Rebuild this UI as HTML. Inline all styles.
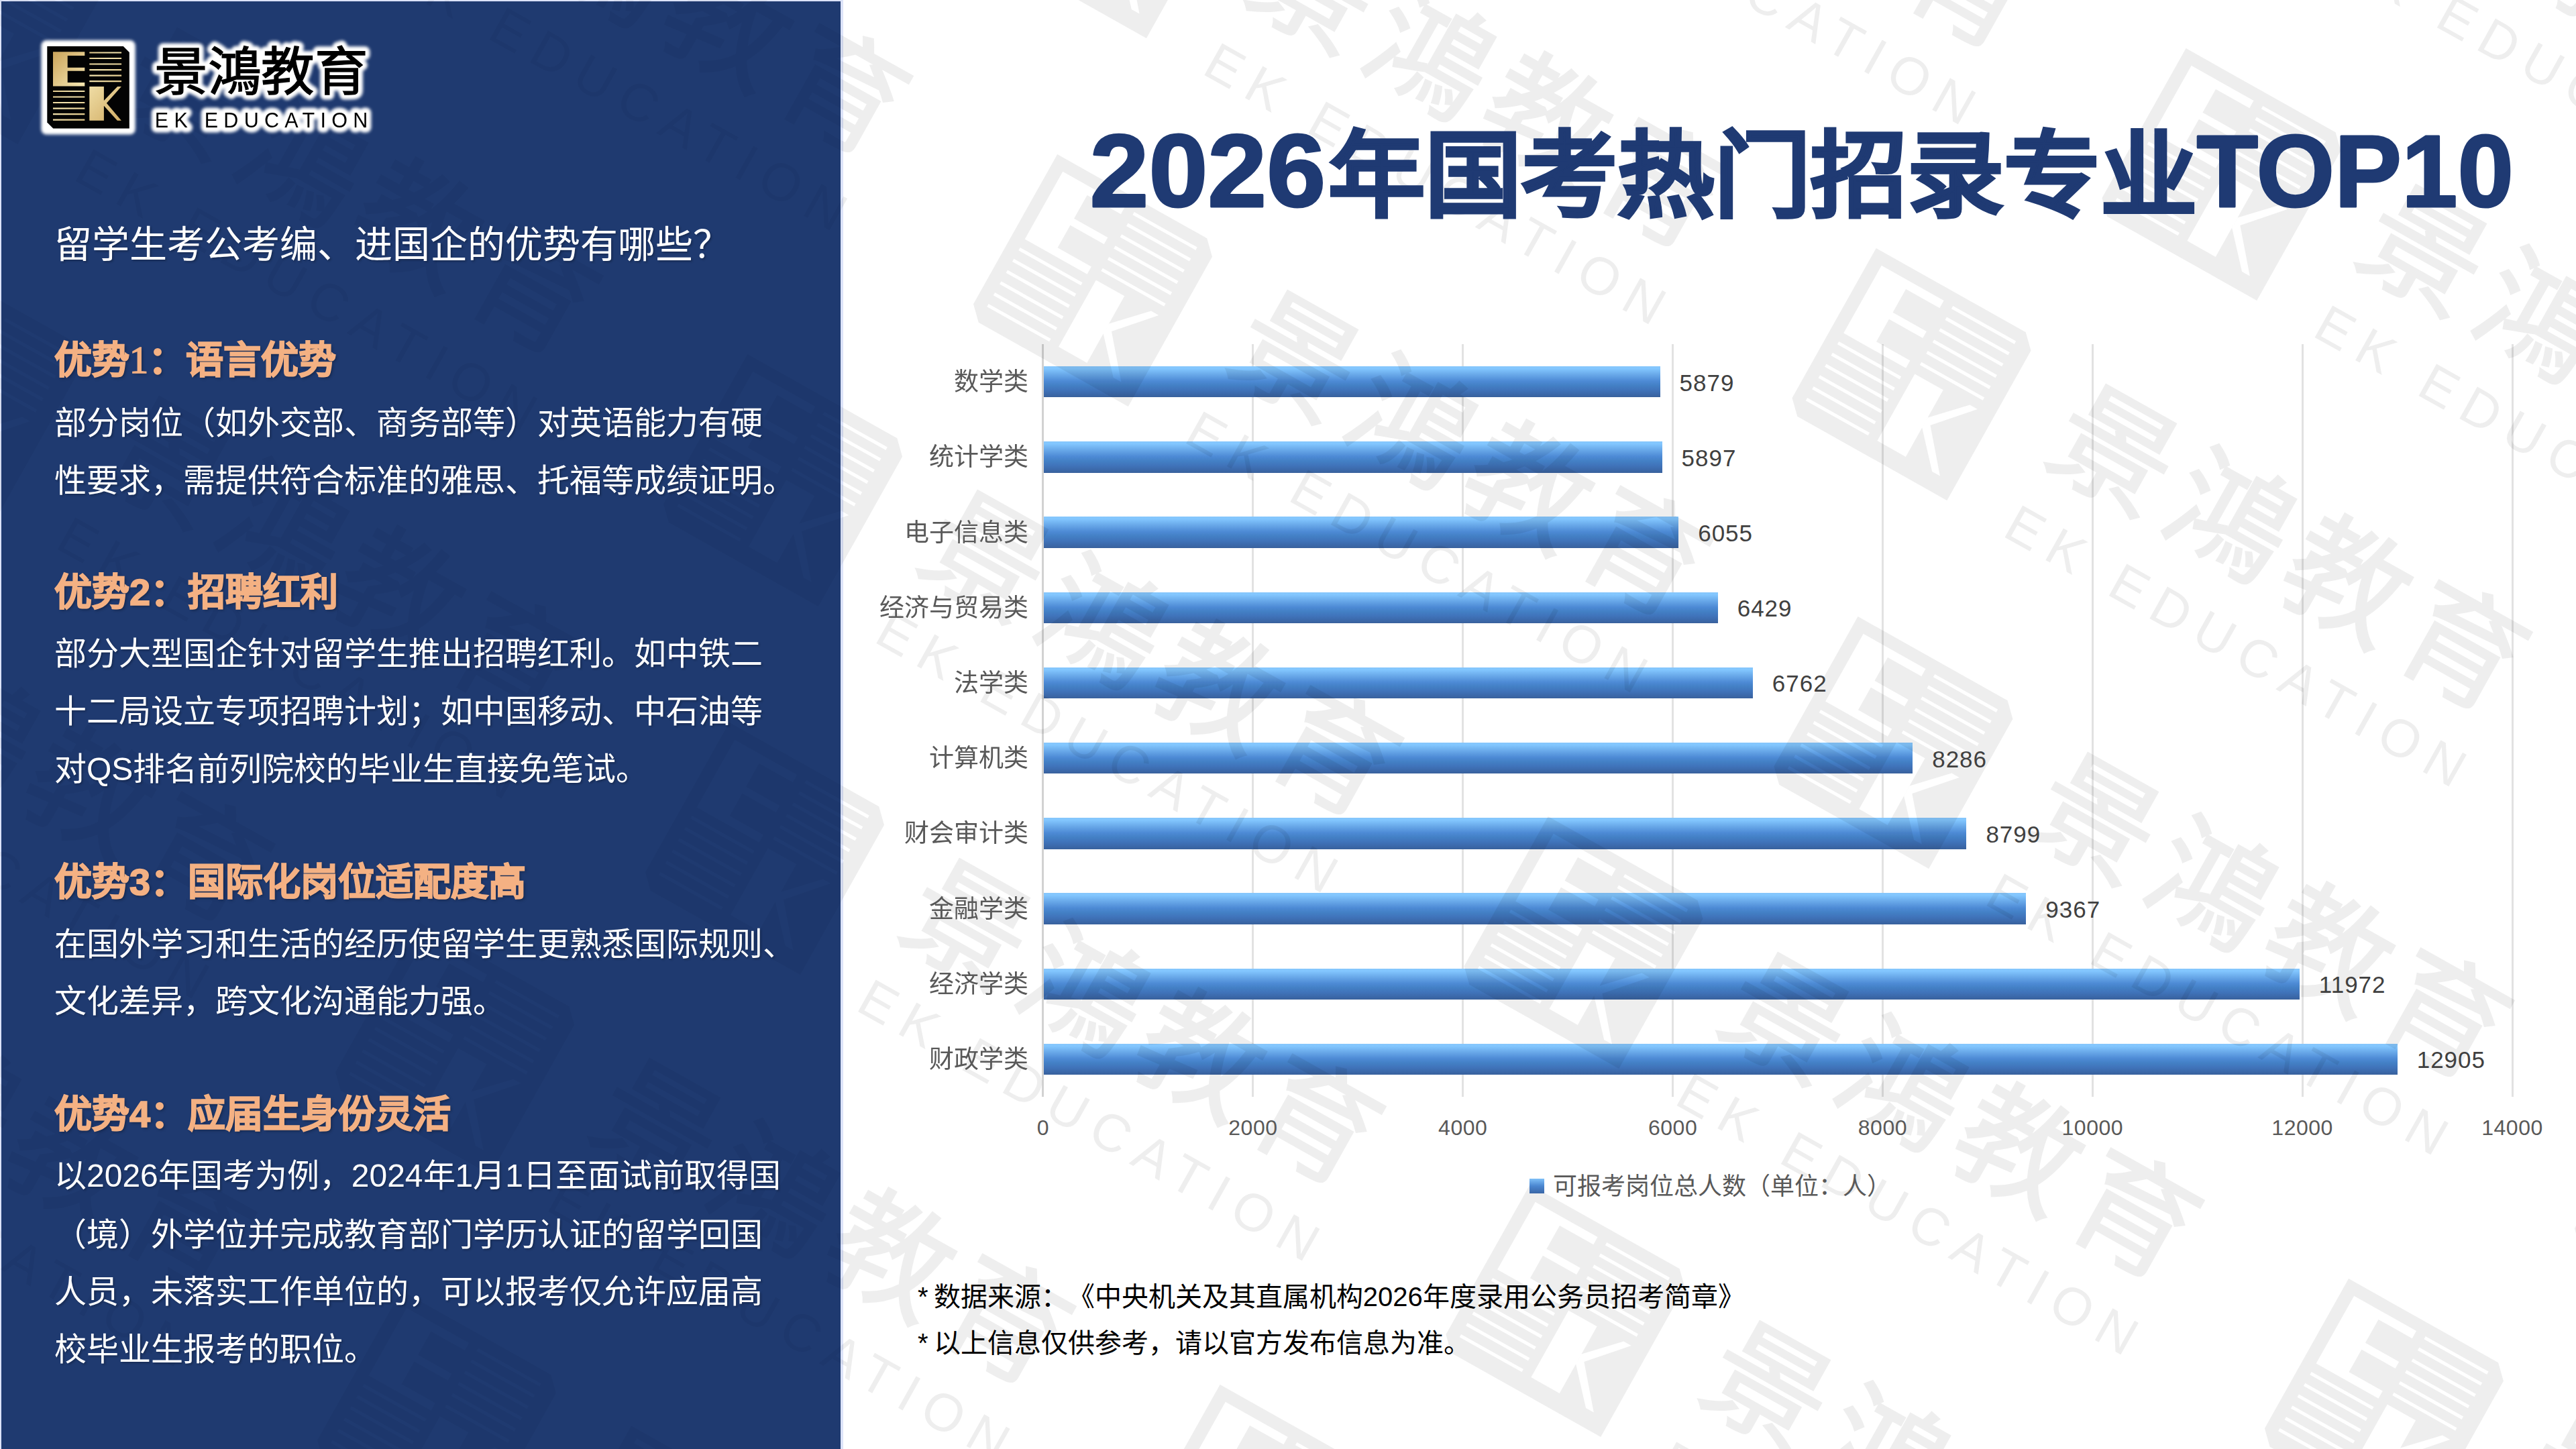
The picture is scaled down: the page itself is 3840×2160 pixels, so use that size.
<!DOCTYPE html>
<html lang="zh-CN">
<head>
<meta charset="utf-8">
<title>2026年国考热门招录专业TOP10</title>
<style>
html,body{margin:0;padding:0;overflow:hidden;}
body{width:3840px;height:2160px;position:relative;overflow:hidden;background:#fff;font-family:"Liberation Sans",sans-serif;text-spacing-trim:space-all;}
div{box-sizing:border-box;}
#panel{position:absolute;left:0;top:0;width:1257px;height:2160px;background:#dce3f8;}
#panel i{position:absolute;left:2px;top:2px;width:1251px;height:2158px;background:#1f3a70;display:block;}
.pl{position:absolute;left:81px;height:100px;line-height:100px;white-space:nowrap;color:#fff;text-shadow:2px 2px 3px rgba(0,0,0,.25);}
.pl.q{font-size:56px;}
.pl.b{font-size:48px;}
.pl.h{font-size:56px;font-weight:bold;color:#f4b183;-webkit-text-stroke:1.6px #f4b183;text-shadow:2px 2px 4px rgba(0,0,0,.35);}
.sf{font-family:"Liberation Serif",serif;font-weight:normal;}
.gl{position:absolute;top:513.0px;width:3px;height:1122.0px;background:#e2e2e2;}
#axis{position:absolute;left:1553.0px;top:513.0px;width:3px;height:1122.0px;background:#d2d2d2;}
.bar{position:absolute;left:1556.0px;height:46.5px;background:linear-gradient(to bottom,#86c6fb 0%,#83c7ff 7%,#6aaaea 26%,#4d8ad5 48%,#4380c5 62%,#4074bb 76%,#3b68a9 91%,#39619c 100%);}
.cl{position:absolute;left:1132.5px;width:400px;text-align:right;height:60px;line-height:60px;font-size:37px;color:#595959;white-space:nowrap;}
.dl{position:absolute;height:60px;line-height:60px;font-size:35px;color:#404040;white-space:nowrap;letter-spacing:1px;}
.al{position:absolute;top:1651px;width:180px;text-align:center;height:60px;line-height:60px;font-size:32px;color:#595959;letter-spacing:.5px;}
#lgm{position:absolute;left:2280px;top:1757px;width:22px;height:22px;background:linear-gradient(to bottom,#7fc0f8,#4a86d0 50%,#3a66a6);}
#lgt{position:absolute;left:2314.5px;top:1739px;height:60px;line-height:60px;font-size:36px;color:#595959;white-space:nowrap;}
.fn{position:absolute;left:1368px;word-spacing:-3px;height:60px;line-height:60px;font-size:40px;color:#000;white-space:nowrap;}
svg{position:absolute;left:0;top:0;}
</style>
</head>
<body>
<div id="panel"><i></i></div>

<!-- chart gridlines + bars -->
<div class="gl" style="left:1866.4px"></div>
<div class="gl" style="left:2179.2px"></div>
<div class="gl" style="left:2492.1px"></div>
<div class="gl" style="left:2804.9px"></div>
<div class="gl" style="left:3117.8px"></div>
<div class="gl" style="left:3430.6px"></div>
<div class="gl" style="left:3743.5px"></div>
<div id="axis"></div>
<div class="bar" style="top:545.9px;width:918.6px"></div>
<div class="bar" style="top:658.0px;width:921.5px"></div>
<div class="bar" style="top:770.2px;width:946.2px"></div>
<div class="bar" style="top:882.5px;width:1004.7px"></div>
<div class="bar" style="top:994.7px;width:1056.8px"></div>
<div class="bar" style="top:1106.8px;width:1295.2px"></div>
<div class="bar" style="top:1219.1px;width:1375.4px"></div>
<div class="bar" style="top:1331.2px;width:1464.3px"></div>
<div class="bar" style="top:1443.5px;width:1871.8px"></div>
<div class="bar" style="top:1555.7px;width:2017.7px"></div>

<!-- watermark overlay -->
<svg id="wm" width="3840" height="2160" viewBox="0 0 3840 2160">
<defs>
<g id="wmu">
<path fill-rule="evenodd" d="M0 0H113.5L122.5 9V122.5H9L0 113.5ZM8.7 8.2H56V13.9H30.4V31.6H56V36.7H30.4V53.8H56V59.5H8.7ZM63 60H84.6V110.7H63ZM84.6 81L104.8 60H110.6L88.6 84.6L110.6 110.7H104.6L84.6 88.6ZM63 8.3H110.8V10.5H63ZM63 16.8H110.8V19H63ZM63 25.3H110.8V27.5H63ZM63 33.9H110.8V36.1H63ZM63 42.4H110.8V44.6H63ZM63 51H110.8V53.2H63ZM8.7 65.8H56V68H8.7ZM8.7 74.3H56V76.5H8.7ZM8.7 82.8H56V85H8.7ZM8.7 91.4H56V93.6H8.7ZM8.7 99.9H56V102.1H8.7ZM8.7 108.5H56V110.7H8.7Z"/>
<text x="163.5 251.5 339.5 427.5" y="68.5" font-size="80" stroke="#000" stroke-width="1.4">景鴻教育</text>
<text x="165" y="125" font-size="35" textLength="342.5" lengthAdjust="spacing" xml:space="preserve">EK EDUCATION</text>
</g>
<g id="wmall">
<use href="#wmu" transform="translate(3338.5 -289.0) rotate(29.3) scale(2.2531) translate(-61.25 -61.25)"/>
<use href="#wmu" transform="translate(2118.0 -429.0) rotate(29.3) scale(2.2531) translate(-61.25 -61.25)"/>
<use href="#wmu" transform="translate(3311.4 260.0) rotate(29.3) scale(2.2531) translate(-61.25 -61.25)"/>
<use href="#wmu" transform="translate(1656.1 -131.0) rotate(29.3) scale(2.2531) translate(-61.25 -61.25)"/>
<use href="#wmu" transform="translate(2849.5 558.0) rotate(29.3) scale(2.2531) translate(-61.25 -61.25)"/>
<use href="#wmu" transform="translate(4042.9 1247.0) rotate(29.3) scale(2.2531) translate(-61.25 -61.25)"/>
<use href="#wmu" transform="translate(435.6 -271.0) rotate(29.3) scale(2.2531) translate(-61.25 -61.25)"/>
<use href="#wmu" transform="translate(1629.0 418.0) rotate(29.3) scale(2.2531) translate(-61.25 -61.25)"/>
<use href="#wmu" transform="translate(2822.4 1107.0) rotate(29.3) scale(2.2531) translate(-61.25 -61.25)"/>
<use href="#wmu" transform="translate(4015.8 1796.0) rotate(29.3) scale(2.2531) translate(-61.25 -61.25)"/>
<use href="#wmu" transform="translate(-26.3 27.0) rotate(29.3) scale(2.2531) translate(-61.25 -61.25)"/>
<use href="#wmu" transform="translate(1167.1 716.0) rotate(29.3) scale(2.2531) translate(-61.25 -61.25)"/>
<use href="#wmu" transform="translate(2360.5 1405.0) rotate(29.3) scale(2.2531) translate(-61.25 -61.25)"/>
<use href="#wmu" transform="translate(3553.9 2094.0) rotate(29.3) scale(2.2531) translate(-61.25 -61.25)"/>
<use href="#wmu" transform="translate(-53.4 576.0) rotate(29.3) scale(2.2531) translate(-61.25 -61.25)"/>
<use href="#wmu" transform="translate(1140.0 1265.0) rotate(29.3) scale(2.2531) translate(-61.25 -61.25)"/>
<use href="#wmu" transform="translate(2333.4 1954.0) rotate(29.3) scale(2.2531) translate(-61.25 -61.25)"/>
<use href="#wmu" transform="translate(-515.3 874.0) rotate(29.3) scale(2.2531) translate(-61.25 -61.25)"/>
<use href="#wmu" transform="translate(678.1 1563.0) rotate(29.3) scale(2.2531) translate(-61.25 -61.25)"/>
<use href="#wmu" transform="translate(1871.5 2252.0) rotate(29.3) scale(2.2531) translate(-61.25 -61.25)"/>
<use href="#wmu" transform="translate(-542.4 1422.9) rotate(29.3) scale(2.2531) translate(-61.25 -61.25)"/>
<use href="#wmu" transform="translate(651.0 2111.9) rotate(29.3) scale(2.2531) translate(-61.25 -61.25)"/>
</g>
<clipPath id="cpL"><rect x="0" y="0" width="1255" height="2160"/></clipPath>
<clipPath id="cpR"><rect x="1255" y="0" width="2585" height="2160"/></clipPath>
</defs>
<g fill="#000" font-family="Liberation Sans, sans-serif">
<g clip-path="url(#cpL)" opacity="0.036"><use href="#wmall"/></g>
<g clip-path="url(#cpR)" opacity="0.063"><use href="#wmall"/></g>
</g>
</svg>

<!-- title -->
<svg id="ttl" width="3840" height="420" viewBox="0 0 3840 420">
<g font-family="Liberation Sans, sans-serif" font-weight="bold" fill="#1f3a73" stroke="#1f3a73" stroke-width="3" stroke-linejoin="round">
<text x="1624.5" y="307.5" font-size="154" textLength="351.6" lengthAdjust="spacingAndGlyphs">2026</text>
<text x="1979.6" y="311" font-size="139.5" textLength="1295.5" lengthAdjust="spacingAndGlyphs" stroke-width="3.2" stroke-linejoin="miter" stroke-miterlimit="3">年国考热门招录专业</text>
<text x="3274.5" y="307.8" font-size="151.6" textLength="472.4" lengthAdjust="spacingAndGlyphs">TOP10</text>
</g>
</svg>

<!-- logo -->
<svg id="logo" width="640" height="260" viewBox="0 0 640 260">
<defs>
<filter id="glow" x="-10%" y="-20%" width="120%" height="140%"><feGaussianBlur stdDeviation="2.2"/></filter>
<linearGradient id="gold" x1="0" y1="0" x2="1" y2="1">
<stop offset="0" stop-color="#caa35a"/><stop offset=".45" stop-color="#f3e3ad"/><stop offset="1" stop-color="#d2ae66"/>
</linearGradient>
</defs>
<g transform="translate(70.3 69.1)" font-family="Liberation Sans, sans-serif">
<g filter="url(#glow)" fill="#fff" stroke="#fff" stroke-linejoin="round">
<rect x="-8" y="-8" width="138.5" height="138.5" rx="7" stroke-width="2"/>
<text x="160" y="66" font-size="78" textLength="318" lengthAdjust="spacingAndGlyphs" stroke-width="15">景鴻教育</text>
<text x="160.5" y="121.4" font-size="30.5" textLength="317.5" lengthAdjust="spacing" stroke-width="15" xml:space="preserve">EK EDUCATION</text>
</g>
<path d="M0 0H113.5L122.5 9V122.5H9L0 113.5Z" fill="#030303"/>
<path d="M8.7 8.2H56V13.9H30.4V31.6H56V36.7H30.4V53.8H56V59.5H8.7ZM63 60H84.6V110.7H63ZM84.6 81L104.8 60H110.6L88.6 84.6L110.6 110.7H104.6L84.6 88.6ZM63 8.3H110.8V10.5H63ZM63 16.8H110.8V19H63ZM63 25.3H110.8V27.5H63ZM63 33.9H110.8V36.1H63ZM63 42.4H110.8V44.6H63ZM63 51H110.8V53.2H63ZM8.7 65.8H56V68H8.7ZM8.7 74.3H56V76.5H8.7ZM8.7 82.8H56V85H8.7ZM8.7 91.4H56V93.6H8.7ZM8.7 99.9H56V102.1H8.7ZM8.7 108.5H56V110.7H8.7Z" fill="url(#gold)"/>
<text x="160" y="66" font-size="78" textLength="318" lengthAdjust="spacingAndGlyphs" fill="#000" stroke="#000" stroke-width="1.4">景鴻教育</text>
<text x="160.5" y="121.4" font-size="30.5" textLength="317.5" lengthAdjust="spacing" fill="#000" xml:space="preserve">EK EDUCATION</text>
</g>
</svg>

<!-- left panel text -->
<div class="pl q" style="top:314.7px">留学生考公考编、进国企的优势有哪些？</div>
<div class="pl h" style="top:487.4px">优势<span class="sf">1</span>：语言优势</div>
<div class="pl b" style="top:580.5px">部分岗位（如外交部、商务部等）对英语能力有硬</div>
<div class="pl b" style="top:666.7px">性要求，需提供符合标准的雅思、托福等成绩证明。</div>
<div class="pl h" style="top:833.2px">优势2：招聘红利</div>
<div class="pl b" style="top:925.0px">部分大型国企针对留学生推出招聘红利。如中铁二</div>
<div class="pl b" style="top:1011.0px">十二局设立专项招聘计划；如中国移动、中石油等</div>
<div class="pl b" style="top:1097.0px">对QS排名前列院校的毕业生直接免笔试。</div>
<div class="pl h" style="top:1265.0px">优势3：国际化岗位适配度高</div>
<div class="pl b" style="top:1357.6px">在国外学习和生活的经历使留学生更熟悉国际规则、</div>
<div class="pl b" style="top:1442.9px">文化差异，跨文化沟通能力强。</div>
<div class="pl h" style="top:1610.7px">优势4：应届生身份灵活</div>
<div class="pl b" style="top:1703.4px">以2026年国考为例，2024年1月1日至面试前取得国</div>
<div class="pl b" style="top:1791.0px">（境）外学位并完成教育部门学历认证的留学回国</div>
<div class="pl b" style="top:1876.3px">人员，未落实工作单位的，可以报考仅允许应届高</div>
<div class="pl b" style="top:1961.5px">校毕业生报考的职位。</div>

<!-- chart labels -->
<div class="cl" style="top:540.1px">数学类</div>
<div class="cl" style="top:652.3px">统计学类</div>
<div class="cl" style="top:764.5px">电子信息类</div>
<div class="cl" style="top:876.7px">经济与贸易类</div>
<div class="cl" style="top:988.9px">法学类</div>
<div class="cl" style="top:1101.1px">计算机类</div>
<div class="cl" style="top:1213.3px">财会审计类</div>
<div class="cl" style="top:1325.5px">金融学类</div>
<div class="cl" style="top:1437.7px">经济学类</div>
<div class="cl" style="top:1549.9px">财政学类</div>

<div class="dl" style="top:540.6px;left:2503.6px">5879</div>
<div class="dl" style="top:652.8px;left:2506.5px">5897</div>
<div class="dl" style="top:765.0px;left:2531.2px">6055</div>
<div class="dl" style="top:877.2px;left:2589.7px">6429</div>
<div class="dl" style="top:989.4px;left:2641.8px">6762</div>
<div class="dl" style="top:1101.6px;left:2880.2px">8286</div>
<div class="dl" style="top:1213.8px;left:2960.4px">8799</div>
<div class="dl" style="top:1326.0px;left:3049.3px">9367</div>
<div class="dl" style="top:1438.2px;left:3456.8px">11972</div>
<div class="dl" style="top:1550.4px;left:3602.7px">12905</div>

<div class="al" style="left:1465.0px">0</div>
<div class="al" style="left:1777.9px">2000</div>
<div class="al" style="left:2090.7px">4000</div>
<div class="al" style="left:2403.6px">6000</div>
<div class="al" style="left:2716.4px">8000</div>
<div class="al" style="left:3029.3px">10000</div>
<div class="al" style="left:3342.1px">12000</div>
<div class="al" style="left:3655.0px">14000</div>

<div id="lgm"></div><div id="lgt">可报考岗位总人数（单位：人）</div>
<div class="fn" style="top:1902.5px">* 数据来源：《中央机关及其直属机构2026年度录用公务员招考简章》</div>
<div class="fn" style="top:1972px">* 以上信息仅供参考，请以官方发布信息为准。</div>
</body>
</html>
